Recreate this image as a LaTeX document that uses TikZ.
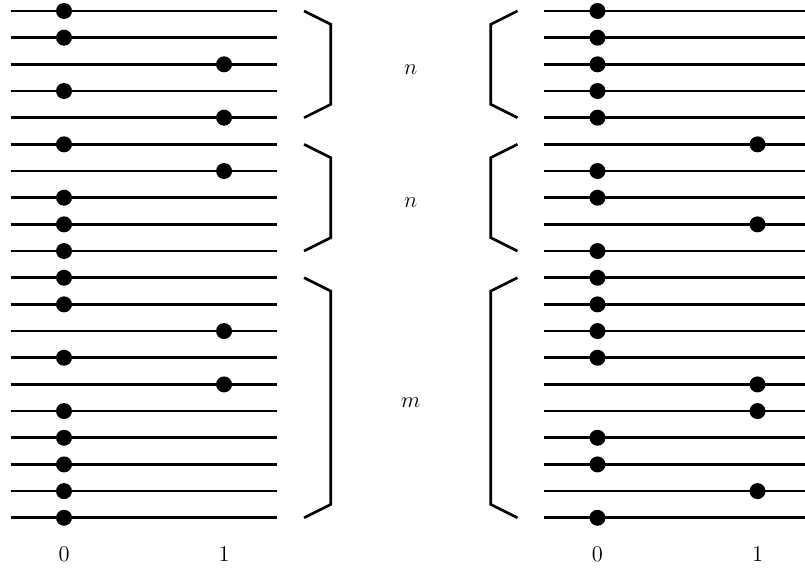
\documentclass[tikz,border=0pt]{standalone}
\tikzstyle{bit}=[circle,fill,inner sep=0pt,minimum size=0.3cm]
\tikzstyle{lbl}=[font=\fontsize{13pt}{15pt}\selectfont]
\begin{document}
\begin{tikzpicture}[line width=1.4pt]
\useasboundingbox (-1.2,0.206) rectangle (13.89,-10.43);
% left register
\foreach \i/\b in {1/0,2/0,3/1,4/0,5/1,6/0,7/1,8/0,9/0,10/0,11/0,12/0,13/1,14/0,15/1,16/0,17/0,18/0,19/0,20/0} {
  \coordinate (la\i) at (-1,{-(\i-1)*0.5});
  \coordinate (lb\i) at (4,{-(\i-1)*0.5});
  \draw (la\i) -- (lb\i);
  \node[bit] (lbit\i) at ({3*\b},{-(\i-1)*0.5}) {};
}
% right register
\foreach \i/\b in {1/0,2/0,3/0,4/0,5/0,6/1,7/0,8/0,9/1,10/0,11/0,12/0,13/0,14/0,15/1,16/1,17/0,18/0,19/1,20/0} {
  \coordinate (ra\i) at (9,{-(\i-1)*0.5});
  \coordinate (rb\i) at (14,{-(\i-1)*0.5});
  \draw (ra\i) -- (rb\i);
  \node[bit] (rbit\i) at ({10+3*\b},{-(\i-1)*0.5}) {};
}
% braces
\draw (4.5,0) -- (5,-0.25) -- (5,-1.75) -- (4.5,-2);
\draw (4.5,-2.5) -- (5,-2.75) -- (5,-4.25) -- (4.5,-4.5);
\draw (4.5,-5) -- (5,-5.25) -- (5,-9.25) -- (4.5,-9.5);
\draw (8.5,0) -- (8,-0.25) -- (8,-1.75) -- (8.5,-2);
\draw (8.5,-2.5) -- (8,-2.75) -- (8,-4.25) -- (8.5,-4.5);
\draw (8.5,-5) -- (8,-5.25) -- (8,-9.25) -- (8.5,-9.5);
\node[lbl] (n1) at (6.5,-1.1) {$n$};
\node[lbl] (n2) at (6.5,-3.6) {$n$};
\node[lbl] (m) at (6.5,-7.35) {$m$};
% axis labels
\node[lbl] (lzero) at (0,-10.18) {$0$};
\node[lbl] (lone) at (3,-10.18) {$1$};
\node[lbl] (rzero) at (10,-10.18) {$0$};
\node[lbl] (rone) at (13,-10.18) {$1$};
\end{tikzpicture}
\end{document}
